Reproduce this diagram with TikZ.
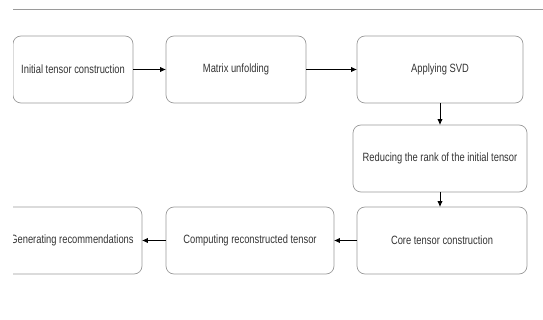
\documentclass[tikz,border=0pt]{standalone}
\usepackage{fontspec}
\setmainfont{Liberation Sans}[FakeStretch=0.78]
\usetikzlibrary{positioning}
\usetikzlibrary{arrows.meta}
\tikzset{>={Latex[width=1.9mm,length=2.1mm]}}
\definecolor{boxgray}{HTML}{9A9A9A}
\definecolor{txtgray}{HTML}{333333}

\begin{document}
\begin{tikzpicture}[
    x = 1pt, y = -1pt,
    box/.style = {draw=boxgray, line width=0.7pt, rounded corners=8pt,
        minimum height=67pt, inner sep=0pt, outer sep=0pt,
        text=txtgray, font=\fontsize{12}{14}\selectfont},
    flow/.style = {->, line width=0.8pt}
  ]
  \useasboundingbox (0,0) rectangle (543,320);
  \clip (13,0) rectangle (543,320);

  \draw[boxgray, line width=0.8pt] (13,9) -- (543,9);

  % top row
  \node[box, minimum width=120pt] (INIT) at (73,69.5) {Initial tensor construction};
  \node[box, minimum width=140pt, right=33pt of INIT] (UNFOLD) {Matrix unfolding};
  \node[box, minimum width=166pt, right=51pt of UNFOLD] (SVD) {Applying SVD};

  % right column
  \node[box, minimum width=174pt, below=22pt of SVD] (RANK) {Reducing the rank of the initial tensor};
  \node[box, minimum width=170pt, below=15pt of RANK, xshift=2pt] (CORE) {Core tensor construction};

  % bottom row
  \node[box, minimum width=168pt, left=23pt of CORE] (RECON) {Computing reconstructed tensor};
  \node[box, minimum width=140pt, left=24pt of RECON] (RECOM) {Generating recommendations};

  \draw[flow] (INIT) -- (UNFOLD);
  \draw[flow] (UNFOLD) -- (SVD);
  \draw[flow] (SVD) -- (RANK);
  \draw[flow] (RANK.south) -- (RANK.south |- CORE.north);
  \draw[flow] (CORE) -- (RECON);
  \draw[flow] (RECON) -- (RECOM);
\end{tikzpicture}
\end{document}
